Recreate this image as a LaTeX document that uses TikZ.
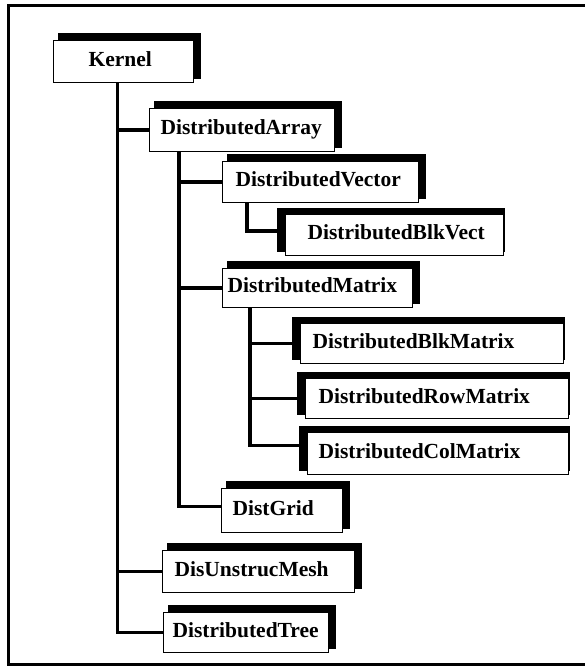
\documentclass[tikz,border=0pt]{standalone}
\usepackage{fontspec}
\setmainfont{Liberation Serif}
\usetikzlibrary{calc,backgrounds}
\begin{document}
\begin{tikzpicture}[x=1pt,y=-1pt,
  box/.style={draw, line width=1.2pt, fill=white, anchor=north west,
    inner ysep=0pt, align=left, font=\fontsize{21.5}{22}\selectfont\bfseries,
    text height=14pt, text depth=5pt},
  conn/.style={line width=3.5pt},
  frame/.style={line width=3pt}]
\useasboundingbox (0,0) rectangle (585,666);

% boxes
\node[box, minimum width=140pt, minimum height=42pt, text width=70pt,  inner xsep=35pt] (kernel) at (53,40)  {Kernel};
\node[box, minimum width=185pt, minimum height=43pt, text width=163pt, inner xsep=11pt] (arr)    at (149,108) {DistributedArray};
\node[box, minimum width=196pt, minimum height=41pt, text width=170pt, inner xsep=13pt] (vec)    at (222,161) {DistributedVector};
\node[box, minimum width=218pt, minimum height=41pt, text width=174pt, inner xsep=22pt] (blkv)   at (285,214) {DistributedBlkVect};
\node[box, minimum width=190pt, minimum height=39pt, text width=180pt, inner xsep=5pt]  (mat)    at (222,268) {DistributedMatrix};
\node[box, minimum width=263pt, minimum height=40pt, text width=239pt, inner xsep=12pt] (blkm)   at (300,323) {DistributedBlkMatrix};
\node[box, minimum width=263pt, minimum height=40pt, text width=237pt, inner xsep=13pt] (rowm)   at (305,378) {DistributedRowMatrix};
\node[box, minimum width=261pt, minimum height=42pt, text width=239pt, inner xsep=11pt] (colm)   at (307,432) {DistributedColMatrix};
\node[box, minimum width=121pt, minimum height=44pt, text width=99pt,  inner xsep=11pt] (grid)   at (221,488) {DistGrid};
\node[box, minimum width=192pt, minimum height=42pt, text width=168pt, inner xsep=12pt] (mesh)   at (162,550) {DisUnstrucMesh};
\node[box, minimum width=165pt, minimum height=40pt, text width=147pt, inner xsep=9pt]  (tree)   at (163,612) {DistributedTree};

% shadows and page background
\begin{scope}[on background layer]
  \fill[white] (0,0) rectangle (585,666);
  \foreach \n in {kernel,arr,vec,mat,grid,mesh,tree}
    \fill ($(\n.north west)+(5,-7)$) rectangle ($(\n.south east)+(7,-4)$);
  \foreach \n in {blkv,blkm,rowm,colm}
    \fill ($(\n.north west)+(-8,-6)$) rectangle ($(\n.south east)+(1,-4)$);
\end{scope}

% trunks
\coordinate (kt) at ([xshift=-6pt]kernel.south);
\coordinate (at) at ([xshift=30pt]arr.south west);
\coordinate (vt) at ([xshift=25pt]vec.south west);
\coordinate (mt) at ([xshift=28pt]mat.south west);

% connectors
\draw[conn] (kt) |- (tree.west);
\draw[conn] (kt |- arr.west) -- (arr.west);
\draw[conn] (kt |- mesh.west) -- (mesh.west);

\draw[conn] (at) |- ([yshift=4pt]grid.west);
\draw[conn] (at |- vec.west) -- (vec.west);
\draw[conn] (at |- mat.west) -- (mat.west);

\draw[conn] (vt) |- ([yshift=4pt]blkv.west);

\draw[conn] (mt) |- ([yshift=8pt]colm.west);
\draw[conn] (mt |- blkm.west) -- (blkm.west);
\draw[conn] (mt |- rowm.west) -- (rowm.west);

% frame
\draw[frame] (8.5,5.5) rectangle (600,664.5);
\end{tikzpicture}
\end{document}
